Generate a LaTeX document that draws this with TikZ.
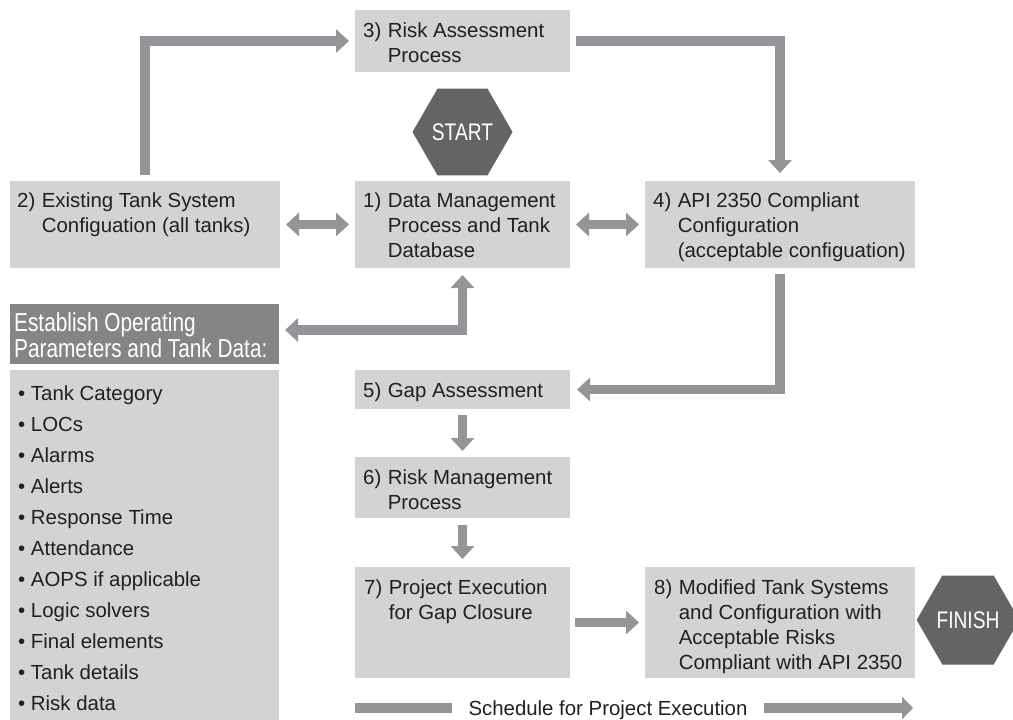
\documentclass[tikz,border=0pt]{standalone}
\usepackage{fontspec}
\setmainfont{Liberation Sans}
\newfontfamily\narrowfont[FakeStretch=0.8]{Liberation Sans}
\usetikzlibrary{arrows.meta,shapes.geometric,calc}
\definecolor{boxgray}{HTML}{D1D3D4}
\definecolor{arrgray}{HTML}{939598}
\definecolor{hexgray}{HTML}{636466}
\definecolor{estgray}{HTML}{848587}
\definecolor{txtdark}{HTML}{231F20}
\newcommand\steptxt[2]{\begin{tabular}[t]{@{}l@{\hspace{6.5pt}}l@{}}#1&\begin{tabular}[t]{@{}l@{}}#2\end{tabular}\end{tabular}}
\begin{document}
\begin{tikzpicture}[x=1pt,y=-1pt,
  bodyfont/.style={font=\fontsize{20.4}{25}\selectfont},
  box/.style={fill=boxgray, draw=none, inner sep=0pt, outer sep=0pt, anchor=north west},
  txt/.style={bodyfont, text=txtdark, inner sep=0pt, anchor=base west},
  hexnode/.style={regular polygon, regular polygon sides=6, minimum size=100pt, fill=hexgray, inner sep=0pt, text=white, font=\narrowfont\fontsize{24}{26}\selectfont},
  conn/.style={draw=arrgray, line width=9.5pt, line join=miter},
  bigtri/.tip={Triangle[width=23pt,length=13pt]},
]
\useasboundingbox (0,0) rectangle (1013,720);

% boxes
\node[box, minimum width=215pt, minimum height=62pt] (b3) at (355,10) {};
\node[box, minimum width=215pt, minimum height=87pt] (b1) at (355,181) {};
\node[box, minimum width=270pt, minimum height=87pt] (b2) at (10,181) {};
\node[box, minimum width=270pt, minimum height=87pt] (b4) at (645,181) {};
\node[box, fill=estgray, minimum width=269pt, minimum height=60pt] (est) at (10,304) {};
\node[box, minimum width=269pt, minimum height=352pt] (lst) at (10,370) {};
\node[box, minimum width=215pt, minimum height=39pt] (b5) at (355,370) {};
\node[box, minimum width=215pt, minimum height=61pt] (b6) at (355,457) {};
\node[box, minimum width=215pt, minimum height=111pt] (b7) at (355,567) {};
\node[box, minimum width=270pt, minimum height=111pt] (b8) at (645,567) {};

\node[hexnode] (start) at (462.5,132) {START};
\node[hexnode] (finish) at (968,620) {FINISH};

% texts
\node[txt] (t3) at ([xshift=8pt,yshift=-27pt]b3.north west) {\steptxt{3)}{Risk Assessment\\Process}};
\node[txt] (t1) at ([xshift=8pt,yshift=-26pt]b1.north west) {\steptxt{1)}{Data Management\\Process and Tank\\Database}};
\node[txt] (t2) at ([xshift=7pt,yshift=-26pt]b2.north west) {\steptxt{2)}{Existing Tank System\\Configuation (all tanks)}};
\node[txt] (t4) at ([xshift=8pt,yshift=-26pt]b4.north west) {\steptxt{4)}{API 2350 Compliant\\Configuration\\(acceptable configuation)}};
\node[txt] (t5) at ([xshift=8pt,yshift=-27pt]b5.north west) {\steptxt{5)}{Gap Assessment}};
\node[txt] (t6) at ([xshift=8pt,yshift=-27pt]b6.north west) {\steptxt{6)}{Risk Management\\Process}};
\node[txt] (t7) at ([xshift=9pt,yshift=-27pt]b7.north west) {\steptxt{7)}{Project Execution\\for Gap Closure}};
\node[txt] (t8) at ([xshift=9pt,yshift=-27pt]b8.north west) {\steptxt{8)}{Modified Tank Systems\\and Configuration with\\Acceptable Risks\\Compliant with API 2350}};

\node[inner sep=0pt, anchor=base west, text=white, font=\narrowfont\fontsize{26}{26}\selectfont] (testab) at (14,331)
  {\begin{tabular}[t]{@{}l@{}}Establish Operating\\Parameters and Tank Data:\end{tabular}};

\foreach \t [count=\i] in {Tank Category, LOCs, Alarms, Alerts, Response Time, Attendance, AOPS if applicable, Logic solvers, Final elements, Tank details, Risk data}
  \node[txt] (li\i) at (18,{400.5+31*(\i-1)}) {\textbullet\ \t};

% connectors
\draw[conn,-bigtri] ([yshift=6pt]b2.north) |- ([xshift=-6pt]b3.west);
\draw[conn,-bigtri] ([xshift=6pt]b3.east) -| ([yshift=8pt]b4.north);
\draw[conn,bigtri-bigtri] ([xshift=6pt]b2.east) -- ([xshift=-6pt]b1.west);
\draw[conn,bigtri-bigtri] ([xshift=6pt]b1.east) -- ([xshift=-6pt]b4.west);
\draw[conn,bigtri-bigtri] ([xshift=6pt,yshift=4pt]est.east) -| ([yshift=-7pt]b1.south);
\draw[conn,-bigtri] ([yshift=-6pt]b4.south) |- ([xshift=7pt]b5.east);
\draw[conn,-bigtri] ([yshift=-6pt]b5.south) -- ([yshift=6pt]b6.north);
\draw[conn,-bigtri] ([yshift=-7pt]b6.south) -- ([yshift=8pt]b7.north);
\draw[conn,-bigtri] ([xshift=5pt]b7.east) -- ([xshift=-6pt]b8.west);

% schedule
\node[txt, anchor=base] (sched) at (608,715.5) {Schedule for Project Execution};
\coordinate (sL) at (355,708);
\coordinate (sR) at (913,708);
\draw[conn, line width=10pt] (sL) -- ([xshift=-16pt]sched.west |- sL);
\draw[conn, line width=10pt, -{Triangle[width=22pt,length=11pt]}] ([xshift=16pt]sched.east |- sR) -- (sR);
\end{tikzpicture}
\end{document}
